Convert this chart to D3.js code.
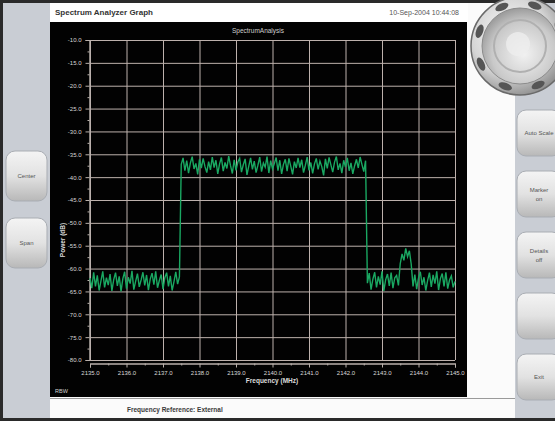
<!DOCTYPE html>
<html><head><meta charset="utf-8">
<script src="https://cdn.jsdelivr.net/npm/d3@7"></script>
<style>body{margin:0;background:#222;}svg{display:block;font-family:"Liberation Sans",Arial,sans-serif;}</style>
</head><body><svg id="c" width="555" height="421"></svg>
<script>
const freqStart = 2135.0, freqStep = 0.05;
const xTicks = [2135,2136,2137,2138,2139,2140,2141,2142,2143,2144,2145];
const yTicks = [-10,-15,-20,-25,-30,-35,-40,-45,-50,-55,-60,-65,-70,-75,-80];
const noiseLow1 = [-62.1,-64.3,-60.8,-63.9,-61.5,-64.8,-62.7,-60.6,-64.1,-62.0,
-63.6,-61.2,-64.9,-62.4,-60.9,-63.8,-61.7,-65.0,-62.2,-60.7,
-64.4,-61.9,-63.3,-60.5,-64.6,-62.8,-61.1,-64.0,-62.5,-60.8,
-63.7,-61.4,-64.7,-62.3,-61.0,-63.5,-60.6,-64.2,-62.6,-61.3,
-64.5,-62.0,-60.9,-63.9,-61.6,-64.8,-62.9,-60.7,-63.4,-61.8];
const carrier = [-37.2,-35.8,-38.6,-36.4,-39.1,-36.9,-35.5,-38.2,-37.0,-39.4,
-36.1,-38.0,-35.9,-37.7,-39.0,-36.6,-38.4,-35.6,-37.9,-36.3,
-39.3,-37.1,-35.7,-38.7,-36.8,-38.1,-35.4,-37.5,-39.2,-36.2,
-38.5,-36.7,-35.9,-38.9,-37.3,-36.0,-39.5,-37.6,-35.8,-38.3,
-36.5,-39.0,-37.4,-35.6,-38.8,-36.9,-37.8,-35.5,-39.1,-36.4,
-38.2,-37.0,-35.7,-38.6,-36.3,-39.3,-37.2,-36.1,-38.7,-35.9,
-37.6,-39.4,-36.6,-38.0,-35.8,-37.9,-36.2,-39.0,-37.4,-35.6,
-38.5,-36.8,-39.2,-37.1,-35.9,-38.3,-36.5,-37.7,-39.6,-36.0,
-38.1,-35.7,-37.3,-38.9,-36.7,-35.5,-38.4,-37.0,-39.1,-36.3,
-37.8,-35.8,-38.6,-36.9,-39.3,-37.5,-36.1,-38.0,-35.6,-37.2,
-38.8,-36.4];
const noiseLow2 = [-63.2,-61.0,-64.6,-62.3,-60.8,-64.1,-61.7,-63.5,-60.6,-64.9,-62.4,-61.2,-63.8,-60.9,-64.3,-62.0,-61.5,-63.7];
const spur = [-58.9,-56.8,-58.2,-55.6,-57.4,-56.1,-59.0];
const noiseLow3 = [-63.9,-61.3,-64.5,-62.1,-60.7,-63.6,-61.9,-64.8,-62.6,-60.9,-64.0,-61.4,-63.3,-60.6,-64.7,-62.2,-61.1,-63.9,-60.8,-64.4,-62.5,-61.6,-64.1,-62.8];
const rightButtons = [["Auto Scale"],["Marker","on"],["Details","off"],[""],["Exit"]];
const leftButtons = [["Center"],["Span"]];

const power = [].concat(noiseLow1, carrier, noiseLow2, spur, noiseLow3);
const trace = power.map((p,i)=>({f: freqStart + i*freqStep, p}));

const svg = d3.select("#c");
const defs = svg.append("defs");
const bg = defs.append("linearGradient").attr("id","btn").attr("x1",0).attr("y1",0).attr("x2",0).attr("y2",1);
bg.append("stop").attr("offset","0").attr("stop-color","#f4f4f4");
bg.append("stop").attr("offset","0.5").attr("stop-color","#e2e2e2");
bg.append("stop").attr("offset","1").attr("stop-color","#b8b8b8");
const kg = defs.append("radialGradient").attr("id","knob").attr("cx","0.4").attr("cy","0.4").attr("r","0.65");
kg.append("stop").attr("offset","0").attr("stop-color","#ffffff");
kg.append("stop").attr("offset","0.6").attr("stop-color","#d6d6d6");
kg.append("stop").attr("offset","1").attr("stop-color","#8a8a8a");
const kg2 = defs.append("radialGradient").attr("id","knob2").attr("cx","0.55").attr("cy","0.6").attr("r","0.6");
kg2.append("stop").attr("offset","0").attr("stop-color","#f2f2f2");
kg2.append("stop").attr("offset","0.7").attr("stop-color","#c9c9c9");
kg2.append("stop").attr("offset","1").attr("stop-color","#9c9c9c");

// device frame
svg.append("rect").attr("width",555).attr("height",421).attr("fill","#2a2a2a");
svg.append("rect").attr("x",3).attr("y",3).attr("width",552).attr("height",415).attr("fill","#c9cdd4");
// screen
svg.append("rect").attr("x",50).attr("y",3).attr("width",465).attr("height",415).attr("fill","#fbfbfb");
svg.append("rect").attr("x",50).attr("y",3).attr("width",418).attr("height",19).attr("fill","#ffffff");
svg.append("text").attr("x",55).attr("y",15).attr("font-size",8).attr("font-weight","bold").attr("fill","#333").text("Spectrum Analyzer Graph");
svg.append("text").attr("x",459).attr("y",15).attr("font-size",7).attr("text-anchor","end").attr("fill","#555").text("10-Sep-2004 10:44:08");
// black plot panel
svg.append("rect").attr("x",50).attr("y",22).attr("width",417).attr("height",375).attr("fill","#020202");
svg.append("line").attr("x1",50).attr("x2",515).attr("y1",398.5).attr("y2",398.5).attr("stroke","#9a9a9a");
svg.append("text").attr("x",127).attr("y",412).attr("font-size",6.5).attr("font-weight","bold").attr("fill","#3a3a3a").text("Frequency Reference: External");

const x = d3.scaleLinear().domain([2135,2145]).range([90,455]);
const y = d3.scaleLinear().domain([-80,-10]).range([360,40]);

const g = svg.append("g");
// grid
g.selectAll("line.h").data(yTicks).join("line").attr("x1",90).attr("x2",455)
 .attr("y1",d=>y(d)+0.5).attr("y2",d=>y(d)+0.5).attr("stroke","#bdb1ac").attr("stroke-width",1);
g.selectAll("line.v").data(xTicks).join("line").attr("y1",40).attr("y2",360)
 .attr("x1",d=>x(d)+0.5).attr("x2",d=>x(d)+0.5).attr("stroke","#bdb1ac").attr("stroke-width",1);

// axes
const ya = g.append("g").attr("transform","translate(89.5,0)")
 .call(d3.axisLeft(y).tickValues(yTicks).tickFormat(d=>d.toFixed(1)).tickSize(4));
const yMinor = g.append("g").attr("transform","translate(89.5,0)")
 .call(d3.axisLeft(y).tickValues(d3.range(-77.5,-10,5)).tickFormat("").tickSize(2));
const xa = g.append("g").attr("transform","translate(0,363.5)")
 .call(d3.axisBottom(x).tickValues(xTicks).tickFormat(d=>d.toFixed(1)).tickSize(4));
const xMinor = g.append("g").attr("transform","translate(0,363.5)")
 .call(d3.axisBottom(x).tickValues(d3.range(2135.5,2145,1)).tickFormat("").tickSize(2));
[ya,yMinor,xa,xMinor].forEach(a=>{
  a.selectAll("path,line").attr("stroke","#b9b0ab");
  a.selectAll("text").attr("fill","#d8d8d8").attr("font-size",6);
});
ya.selectAll("text").attr("dx",-1);

g.append("text").attr("x",258).attr("y",33).attr("text-anchor","middle").attr("font-size",6.5).attr("fill","#cfcfcf").text("SpectrumAnalysis");
g.append("text").attr("transform","translate(65,240) rotate(-90)").attr("text-anchor","middle").attr("font-size",6.5).attr("font-weight","bold").attr("fill","#dcdcdc").text("Power (dB)");
g.append("text").attr("x",272).attr("y",383).attr("text-anchor","middle").attr("font-size",6.5).attr("font-weight","bold").attr("fill","#dcdcdc").text("Frequency (MHz)");
g.append("text").attr("x",55).attr("y",393).attr("font-size",5.5).attr("fill","#cfcfcf").text("RBW");

// trace
g.append("path").datum(trace)
 .attr("d", d3.line().x(d=>x(d.f)).y(d=>y(d.p)))
 .attr("fill","none").attr("stroke","#1aa862").attr("stroke-width",1.4);

// left buttons
function button(bx,by,w,h,lines){
  const b = svg.append("g");
  b.append("rect").attr("x",bx).attr("y",by).attr("width",w).attr("height",h).attr("rx",9)
   .attr("fill","url(#btn)").attr("stroke","#a9adb3");
  lines.forEach((t,i)=>b.append("text").attr("x",bx+w/2).attr("y",by+h/2+2+(i-(lines.length-1)/2)*9)
    .attr("text-anchor","middle").attr("font-size",6).attr("fill","#555").text(t));
}
leftButtons.forEach((l,i)=>button(6,151+i*67,41,50,l));
rightButtons.forEach((l,i)=>button(517,110+i*61,44,46,l));

// knob
const kx=520, ky=46;
svg.append("circle").attr("cx",kx).attr("cy",ky).attr("r",49).attr("fill","url(#knob)").attr("stroke","#6a6a6a").attr("stroke-width",1.5);
d3.range(0,360,45).forEach(a=>{
  const r=a*Math.PI/180+0.35;
  svg.append("ellipse").attr("cx",kx+43*Math.cos(r)).attr("cy",ky+43*Math.sin(r)).attr("rx",7).attr("ry",3.5)
   .attr("transform",`rotate(${a+20+90},${kx+43*Math.cos(r)},${ky+43*Math.sin(r)})`).attr("fill","#555");
});
svg.append("circle").attr("cx",kx).attr("cy",ky).attr("r",38).attr("fill","url(#knob2)").attr("stroke","#8c8c8c");
svg.append("circle").attr("cx",kx).attr("cy",ky).attr("r",26).attr("fill","none").attr("stroke","#b0b0b0").attr("stroke-width",2);
svg.append("circle").attr("cx",kx-2).attr("cy",ky-2).attr("r",12).attr("fill","#eeeeee").attr("opacity",0.8);
</script></body></html>
